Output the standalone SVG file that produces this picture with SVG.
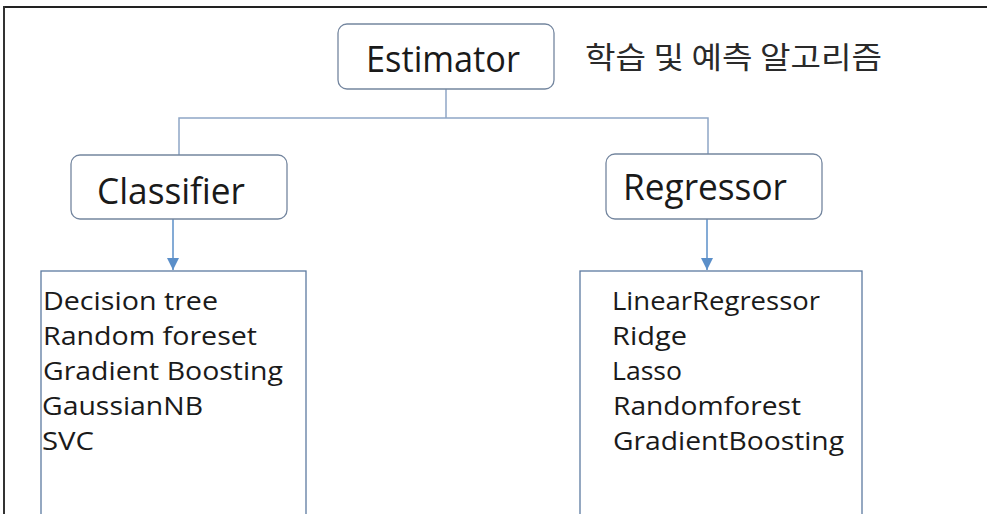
<svg xmlns="http://www.w3.org/2000/svg" width="987" height="514" viewBox="0 0 987 514">
  <style>
    .node { fill: #ffffff; stroke: #74869f; stroke-width: 1.3; }
    .list { fill: #ffffff; stroke: #5c7aa0; stroke-width: 1.3; }
    .title { font-family: "Open Sans", "Noto Sans", "Liberation Sans", sans-serif; font-size: 36px; fill: #1a1a1a; }
    .item { font-family: "Open Sans", "Noto Sans", "Liberation Sans", sans-serif; font-size: 26px; fill: #1a1a1a; }
    .note { font-family: "Noto Sans CJK KR", "Noto Sans", sans-serif; font-size: 30px; fill: #2a2a2a; }
    .link { fill: none; stroke: #8fa6c6; stroke-width: 1.5; }
    .arrow { fill: none; stroke: #5b8fc9; stroke-width: 1.5; }
  </style>
  <defs>
    <marker id="head" viewBox="0 0 12 12" refX="12" refY="6" markerWidth="12" markerHeight="12" markerUnits="userSpaceOnUse" orient="auto">
      <path d="M0,0 L12,6 L0,12 Z" fill="#5b8fc9"/>
    </marker>
  </defs>

  <rect x="0" y="0" width="987" height="514" fill="#ffffff"/>

  <!-- outer frame (top and left edges) -->
  <g id="frame">
    <line x1="3" y1="7" x2="987" y2="7" stroke="#222222" stroke-width="2"/>
    <line x1="4" y1="6" x2="4" y2="514" stroke="#333333" stroke-width="2"/>
  </g>

  <!-- connectors -->
  <g id="connectors">
    <polyline class="link" points="446,89 446,118"/>
    <polyline class="link" points="179,155 179,118 708,118 708,154"/>
    <line class="arrow" x1="173" y1="219" x2="173" y2="270" marker-end="url(#head)"/>
    <line class="arrow" x1="707" y1="219" x2="707" y2="270" marker-end="url(#head)"/>
  </g>

  <g id="estimator">
    <rect class="node" x="338" y="24" width="216" height="65" rx="9"/>
    <text class="title" x="366" y="72" textLength="154" lengthAdjust="spacingAndGlyphs">Estimator</text>
  </g>

  <g id="caption">
    <text class="note" x="585" y="68" textLength="297" lengthAdjust="spacingAndGlyphs">학습 및 예측 알고리즘</text>
  </g>

  <g id="classifier">
    <rect class="node" x="71" y="155" width="216" height="64" rx="9"/>
    <text class="title" x="97" y="204" textLength="148" lengthAdjust="spacingAndGlyphs">Classifier</text>
  </g>

  <g id="regressor">
    <rect class="node" x="606" y="154" width="216" height="65" rx="9"/>
    <text class="title" x="623" y="200" textLength="164" lengthAdjust="spacingAndGlyphs">Regressor</text>
  </g>

  <g id="classifier-list">
    <rect class="list" x="41" y="271" width="265" height="245"/>
    <text class="item" x="43" y="310" textLength="175" lengthAdjust="spacingAndGlyphs">Decision tree</text>
    <text class="item" x="43" y="345" textLength="214" lengthAdjust="spacingAndGlyphs">Random foreset</text>
    <text class="item" x="43" y="380" textLength="240" lengthAdjust="spacingAndGlyphs">Gradient Boosting</text>
    <text class="item" x="42" y="415" textLength="161" lengthAdjust="spacingAndGlyphs">GaussianNB</text>
    <text class="item" x="42" y="450" textLength="52" lengthAdjust="spacingAndGlyphs">SVC</text>
  </g>

  <g id="regressor-list">
    <rect class="list" x="580" y="271" width="282" height="245"/>
    <text class="item" x="612" y="310" textLength="208" lengthAdjust="spacingAndGlyphs">LinearRegressor</text>
    <text class="item" x="612" y="345" textLength="75" lengthAdjust="spacingAndGlyphs">Ridge</text>
    <text class="item" x="612" y="380" textLength="70" lengthAdjust="spacingAndGlyphs">Lasso</text>
    <text class="item" x="613" y="415" textLength="188" lengthAdjust="spacingAndGlyphs">Randomforest</text>
    <text class="item" x="613" y="450" textLength="231" lengthAdjust="spacingAndGlyphs">GradientBoosting</text>
  </g>
</svg>
